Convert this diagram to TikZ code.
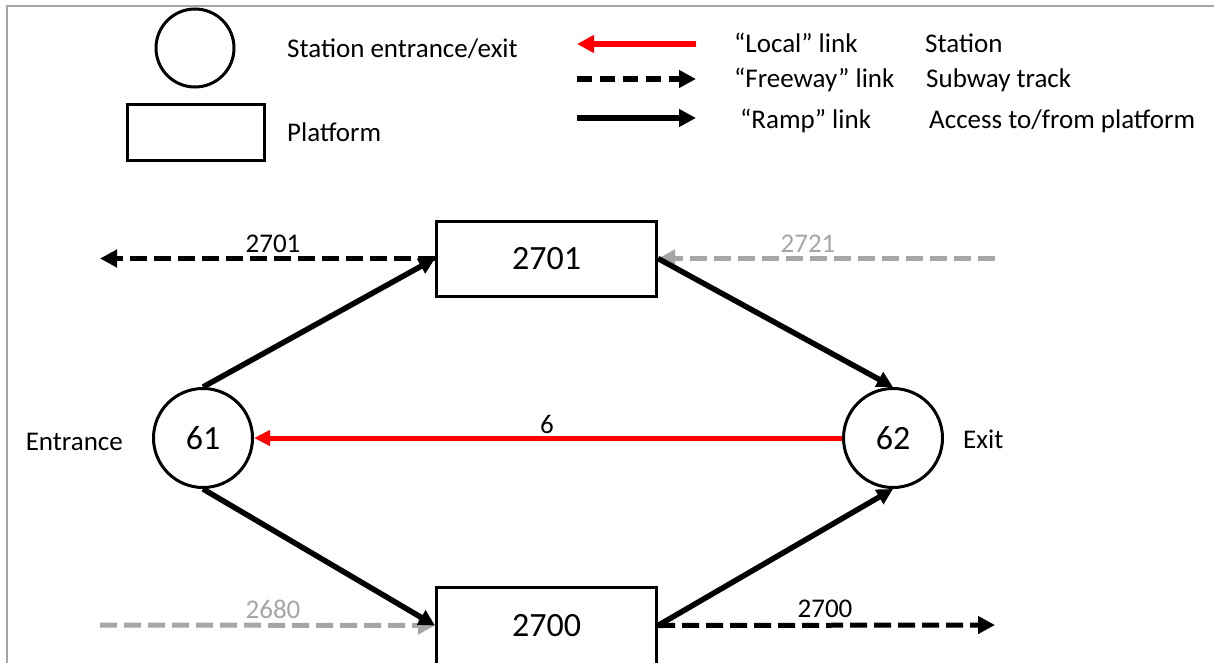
\documentclass[tikz,border=0pt]{standalone}
\usepackage{fontspec}
\setmainfont{Carlito}
\usetikzlibrary{arrows.meta}
\definecolor{trackgray}{RGB}{166,166,166}
\definecolor{framegray}{RGB}{165,165,165}
\definecolor{localred}{RGB}{255,0,0}

\begin{document}
\begin{tikzpicture}[x=1pt,y=-1pt,
  lbl/.style={inner sep=0pt, font=\fontsize{27}{32}\selectfont},
  stn/.style={circle, draw, line width=3pt, minimum size=99pt, inner sep=0pt,
              font=\fontsize{34}{40}\selectfont},
  plat/.style={rectangle, draw, line width=3pt, minimum width=220pt,
               minimum height=75pt, inner sep=0pt, font=\fontsize{34}{40}\selectfont},
  ramp/.style={line width=5.5pt, -{Triangle[length=16pt,width=16pt]}},
  freeway/.style={line width=5pt, dash pattern=on 17pt off 7pt,
                  -{Triangle[length=17pt,width=17pt]}},
  localink/.style={localred, line width=5pt, -{Triangle[length=16pt,width=15pt]}},
  keyline/.style={line width=5.5pt},
]
\useasboundingbox (0,0) rectangle (1214,663);
\fill[white] (0,0) rectangle (1214,663);

% outer frame (top and left edges)
\draw[framegray, line width=2pt] (6.5,663) -- (6.5,6) -- (1214,6);

% ---------- key ----------
\node[stn, minimum size=78pt] (keyStn) at (195,48) {};
\node[plat, minimum width=137pt, minimum height=56pt] (keyPlat) at (195.5,133) {};
\node[lbl, anchor=base west] (keyStnTxt) at (287,58) {Station entrance/exit};
\node[lbl, anchor=base west] (keyPlatTxt) at (287,142) {Platform};

\coordinate (kLa) at (577,44);  \coordinate (kLb) at (696,44);
\coordinate (kFa) at (577,79);  \coordinate (kFb) at (696,79);
\coordinate (kRa) at (577,118); \coordinate (kRb) at (696,118);
\draw[localink, keyline, -{Triangle[length=17pt,width=17pt]}] (kLb) -- (kLa);
\draw[freeway, keyline, dash pattern=on 15pt off 8pt] (kFa) -- (kFb);
\draw[ramp, keyline, -{Triangle[length=17pt,width=17pt]}] (kRa) -- (kRb);

\node[lbl, anchor=base west] (keyLocal) at (734,53) {“Local” link};
\node[lbl, anchor=base west] (keyFree) at (734,88) {“Freeway” link};
\node[lbl, anchor=base west] (keyRamp) at (740,129) {“Ramp” link};
\node[lbl, anchor=base west] (keyLocalD) at (925,53) {Station};
\node[lbl, anchor=base west] (keyFreeD) at (926,88) {Subway track};
\node[lbl, anchor=base west] (keyRampD) at (929,129) {Access to/from platform};

% ---------- network ----------
\node[plat] (p2701) at (546.5,258.5) {2701};
\node[plat, minimum height=77pt] (p2700) at (546.5,625.5) {2700};
\node[stn] (s61) at (203,438) {61};
\node[stn] (s62) at (893,438) {62};

\node[lbl, anchor=base east] (entr) at (123,450) {Entrance};
\node[lbl, anchor=base west] (exitl) at (963,448) {Exit};

% subway track links
\coordinate (wUp) at (100,258.5);
\coordinate (eUp) at (995,258.5);
\coordinate (wDn) at (100,625);
\coordinate (eDn) at (995,625);

\draw[freeway] (p2701.west) -- (wUp);
\draw[freeway, trackgray] (eUp) -- (p2701.east);
\draw[freeway, trackgray] (wDn) -- (p2700.west);
\draw[freeway] (p2700.east) -- (eDn);

\node[lbl, anchor=base] (l2701) at (273,252) {2701};
\node[lbl, anchor=base, text=trackgray] (l2721) at (808,252) {2721};
\node[lbl, anchor=base, text=trackgray] (l2680) at (273,618) {2680};
\node[lbl, anchor=base] (l2700) at (825,617) {2700};

% station link
\draw[localink] (s62.west) -- (s61.east);
\node[lbl, anchor=base] (l6) at (547,433) {6};

% platform access links
\draw[ramp] (s61.north) -- (p2701.west);
\draw[ramp] (p2701.east) -- (s62.north);
\draw[ramp] (s61.south) -- (p2700.west);
\draw[ramp] (p2700.east) -- (s62.south);
\end{tikzpicture}
\end{document}
